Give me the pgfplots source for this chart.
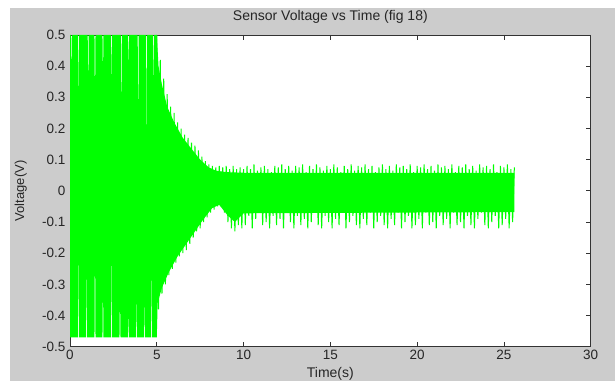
\documentclass[border=0pt]{standalone}
\usepackage{fontspec}
\setmainfont{Liberation Sans}
\usepackage{pgfplots}
\pgfplotsset{compat=1.18}
\definecolor{bggray}{RGB}{204,204,204}
\definecolor{sig}{RGB}{0,255,0}
\begin{document}
\begin{tikzpicture}[x=1bp,y=1bp]
\useasboundingbox (0,0) rectangle (615,381);
\fill[white] (0,0) rectangle (615,381);
\fill[bggray] (10,0) rectangle (615,373);
\begin{axis}[
  at={(70bp,34.3bp)}, anchor=south west,
  scale only axis, width=520.7bp, height=311.7bp,
  xmin=0, xmax=30, ymin=-0.5, ymax=0.5,
  axis background/.style={fill=white},
  xtick={0,5,10,15,20,25,30},
  xticklabels={0,5,10,15,20,25,30},
  ytick={-0.5,-0.4,-0.3,-0.2,-0.1,0,0.1,0.2,0.3,0.4,0.5},
  yticklabels={-0.5,-0.4,-0.3,-0.2,-0.1,0,0.1,0.2,0.3,0.4,0.5},
  tick pos=both, tick align=inside,
  major tick length=5bp,
  every tick/.style={black!80, line width=0.8bp},
  axis line style={black!80, line width=0.8bp},
  ticklabel style={font=\fontsize{13.5bp}{15bp}\selectfont, text=black!85},
  yticklabel style={xshift=-1bp},
  title={Sensor Voltage vs Time (fig 18)},
  title style={at={([yshift=8.7bp]axis description cs:0.5,1)}, anchor=base, font=\fontsize{14bp}{16bp}\selectfont, text=black!85},
  xlabel={Time(s)},
  xlabel style={at={([yshift=-31bp]axis description cs:0.5,0)}, anchor=base, font=\fontsize{14bp}{16bp}\selectfont, text=black!85},
  ylabel={Voltage(V)},
  ylabel style={at={([xshift=-46bp]axis description cs:0,0.5)}, anchor=base, rotate=0, font=\fontsize{13bp}{15bp}\selectfont, text=black!85},
]
% solid body of the dense oscillation (its envelope, with the lower peaks as notches)
\addplot[fill=sig, draw=none] coordinates {
(0,0.5)(0.07,0.5)(0.1,0.36)(0.13,0.5)(0.45,0.5)(0.48,0.26)(0.51,0.5)(1.02,0.5)(1.05,0.30)(1.08,0.5)
(1.41,0.5)(1.44,0.25)(1.47,0.5)(1.87,0.5)(1.9,0.35)(1.93,0.5)(2.37,0.5)(2.4,0.32)(2.43,0.5)
(2.95,0.5)(2.98,0.18)(3.01,0.5)(3.33,0.5)(3.36,0.38)(3.39,0.5)(3.9,0.5)(3.93,0.15)(3.96,0.5)
(4.37,0.5)(4.4,0.12)(4.43,0.5)(4.77,0.5)(4.8,0.30)(4.83,0.5)(5.0,0.5)
(5.1,0.40)(5.3,0.34)(5.6,0.27)(6.0,0.22)(6.5,0.17)(7.0,0.135)(7.5,0.10)(8.0,0.075)(8.4,0.065)(9.0,0.06)(10,0.058)(25.6,0.058)
(25.6,-0.068)(10,-0.072)(9.5,-0.10)(9.1,-0.08)(8.6,-0.045)(8.2,-0.055)(7.7,-0.09)(7.2,-0.13)(6.7,-0.17)(6.2,-0.21)(5.7,-0.26)(5.3,-0.31)(5.05,-0.36)
(5.0,-0.47)(4.73,-0.47)(4.7,-0.2)(4.67,-0.47)(4.33,-0.47)(4.3,-0.34)(4.27,-0.47)(3.87,-0.47)(3.84,-0.32)(3.81,-0.47)
(3.39,-0.47)(3.36,-0.38)(3.33,-0.47)(2.91,-0.47)(2.88,-0.32)(2.85,-0.47)(2.43,-0.47)(2.4,-0.14)(2.37,-0.47)
(1.93,-0.47)(1.9,-0.27)(1.87,-0.47)(1.47,-0.47)(1.44,-0.1)(1.41,-0.47)(0.99,-0.47)(0.96,-0.2)(0.93,-0.47)
(0.51,-0.47)(0.48,-0.13)(0.45,-0.47)(0,-0.47)
} -- cycle;
% the oscillation itself, peak to trough, after the clipped part
\addplot[sig, line width=1bp, line join=miter] coordinates {
(5.0,0.5)(5.1,-0.38)(5.2,0.42)(5.3,-0.33)(5.4,0.36)(5.5,-0.30)(5.6,0.31)(5.7,-0.27)(5.8,0.27)(5.9,-0.25)
(6.0,0.25)(6.1,-0.23)(6.2,0.22)(6.3,-0.21)(6.4,0.20)(6.5,-0.20)(6.6,0.18)(6.7,-0.19)(6.8,0.17)(6.9,-0.17)
(7.0,0.155)(7.1,-0.15)(7.2,0.145)(7.3,-0.13)(7.4,0.13)(7.5,-0.12)(7.6,0.11)(7.7,-0.10)(7.8,0.095)(7.9,-0.085)
(8.0,0.085)(8.1,-0.07)(8.2,0.08)(8.3,-0.06)(8.4,0.075)(8.5,-0.05)(8.6,0.08)(8.7,-0.05)(8.8,0.075)(8.9,-0.07)
(9.0,0.08)(9.1,-0.10)(9.2,0.07)(9.3,-0.12)(9.4,0.08)(9.5,-0.13)(9.6,0.07)(9.7,-0.11)(9.8,0.075)(9.9,-0.12)
(10.0,0.07)
(10.1,-0.11)(10.2,0.08)(10.3,-0.08)(10.4,0.07)(10.5,-0.12)(10.6,0.085)(10.7,-0.09)(10.8,0.065)(10.9,-0.07)(11.0,0.075)
(11.1,-0.11)(11.2,0.08)(11.3,-0.10)(11.4,0.07)(11.5,-0.12)(11.6,0.06)(11.7,-0.08)(11.8,0.08)(11.9,-0.11)(12.0,0.075)
(12.1,-0.09)(12.2,0.085)(12.3,-0.12)(12.4,0.07)(12.5,-0.07)(12.6,0.08)(12.7,-0.10)(12.8,0.065)(12.9,-0.12)(13.0,0.08)
(13.1,-0.08)(13.2,0.075)(13.3,-0.11)(13.4,0.085)(13.5,-0.09)(13.6,0.06)(13.7,-0.12)(13.8,0.08)(13.9,-0.10)(14.0,0.07)
(14.1,-0.07)(14.2,0.085)(14.3,-0.11)(14.4,0.075)(14.5,-0.12)(14.6,0.065)(14.7,-0.08)(14.8,0.08)(14.9,-0.10)(15.0,0.07)
(15.1,-0.12)(15.2,0.085)(15.3,-0.09)(15.4,0.075)(15.5,-0.11)(15.6,0.06)(15.7,-0.07)(15.8,0.08)(15.9,-0.12)(16.0,0.07)
(16.1,-0.10)(16.2,0.085)(16.3,-0.08)(16.4,0.065)(16.5,-0.11)(16.6,0.08)(16.7,-0.12)(16.8,0.075)(16.9,-0.09)(17.0,0.085)
(17.1,-0.11)(17.2,0.07)(17.3,-0.07)(17.4,0.08)(17.5,-0.12)(17.6,0.06)(17.7,-0.10)(17.8,0.075)(17.9,-0.08)(18.0,0.085)
(18.1,-0.11)(18.2,0.07)(18.3,-0.12)(18.4,0.08)(18.5,-0.09)(18.6,0.065)(18.7,-0.11)(18.8,0.085)(18.9,-0.07)(19.0,0.075)
(19.1,-0.12)(19.2,0.08)(19.3,-0.10)(19.4,0.07)(19.5,-0.08)(19.6,0.085)(19.7,-0.12)(19.8,0.06)(19.9,-0.11)(20.0,0.08)
(20.1,-0.09)(20.2,0.075)(20.3,-0.12)(20.4,0.085)(20.5,-0.07)(20.6,0.07)(20.7,-0.11)(20.8,0.08)(20.9,-0.10)(21.0,0.065)
(21.1,-0.12)(21.2,0.085)(21.3,-0.08)(21.4,0.075)(21.5,-0.11)(21.6,0.08)(21.7,-0.09)(21.8,0.07)(21.9,-0.12)(22.0,0.085)
(22.1,-0.07)(22.2,0.06)(22.3,-0.11)(22.4,0.08)(22.5,-0.10)(22.6,0.075)(22.7,-0.12)(22.8,0.085)(22.9,-0.08)(23.0,0.07)
(23.1,-0.11)(23.2,0.08)(23.3,-0.12)(23.4,0.065)(23.5,-0.09)(23.6,0.085)(23.7,-0.07)(23.8,0.075)(23.9,-0.11)(24.0,0.08)
(24.1,-0.12)(24.2,0.07)(24.3,-0.10)(24.4,0.085)(24.5,-0.08)(24.6,0.06)(24.7,-0.12)(24.8,0.08)(24.9,-0.11)(25.0,0.075)
(25.1,-0.09)(25.2,0.085)(25.3,-0.12)(25.4,0.07)(25.5,-0.10)(25.6,0.075)
};
\end{axis}
\end{tikzpicture}
\end{document}
